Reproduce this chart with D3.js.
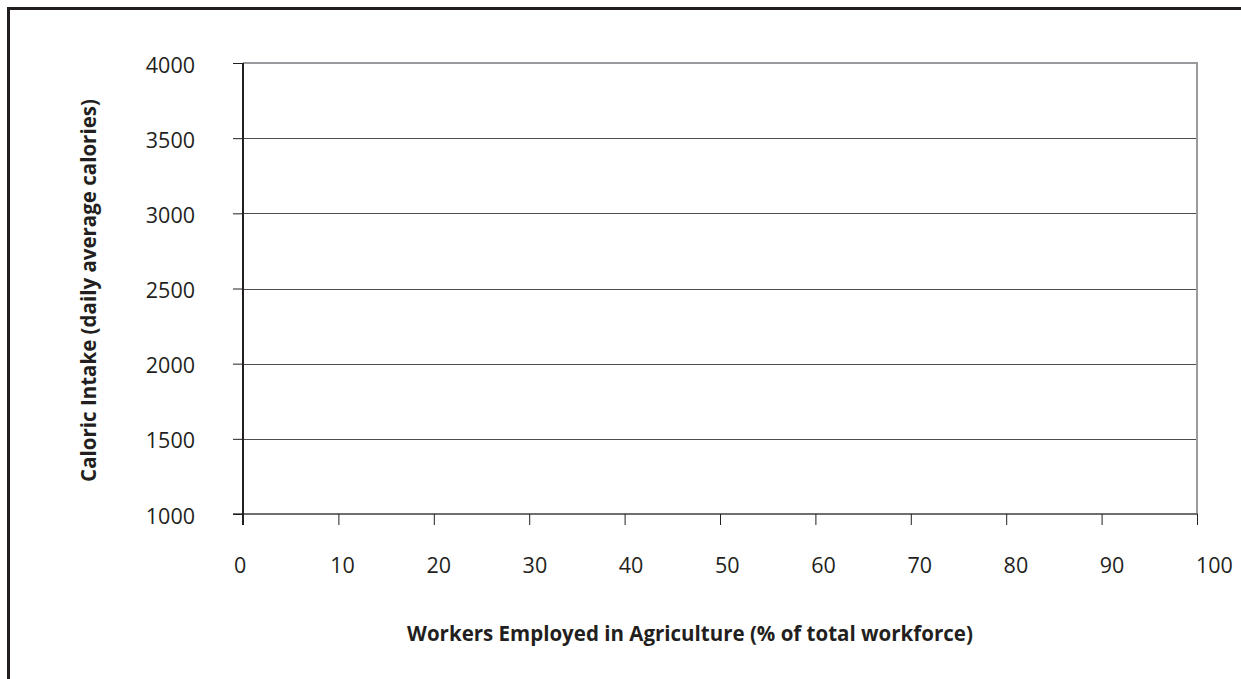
<!DOCTYPE html>
<html>
<head>
<meta charset="utf-8">
<script src="https://cdn.jsdelivr.net/npm/d3@7"></script>
<style>
  html, body { margin: 0; padding: 0; background: #fff; }
  svg { display: block; }
  text { font-family: "Open Sans", "Noto Sans", sans-serif; fill: #231f20; }
</style>
</head>
<body>
<svg id="chart" width="1241" height="679"></svg>
<script>
// Axis domains and tick values
const xDomain = [0, 100];
const yDomain = [1000, 4000];
const xTickValues = [0, 10, 20, 30, 40, 50, 60, 70, 80, 90, 100];
const yTickValues = [1000, 1500, 2000, 2500, 3000, 3500, 4000];
// Scatter points (workers in agriculture %, daily calories) – none plotted
const points = [];

const xTitle = "Workers Employed in Agriculture (% of total workforce)";
const yTitle = "Caloric Intake (daily average calories)";

const svg = d3.select("#chart");
const plot = { left: 243, right: 1197, top: 63, bottom: 514 };
const tickFont = 21.5;
const titleFont = 20.5;

const x = d3.scaleLinear().domain(xDomain).range([plot.left, plot.right]);
const y = d3.scaleLinear().domain(yDomain).range([plot.bottom, plot.top]);
// x tick labels are set left-aligned on a slightly wider spacing than the ticks
const xLabel = d3.scaleLinear().domain(xDomain).range([234, 1196]);

// Outer frame
svg.append("rect")
  .attr("x", 8.5).attr("y", 8.5)
  .attr("width", 1300).attr("height", 760)
  .attr("fill", "none")
  .attr("stroke", "#231f20")
  .attr("stroke-width", 3);

// Horizontal gridlines
svg.append("g")
  .selectAll("line")
  .data(yTickValues.filter(v => v > yDomain[0] && v < yDomain[1]))
  .join("line")
  .attr("x1", plot.left).attr("x2", plot.right)
  .attr("y1", d => Math.round(y(d)) + 0.5).attr("y2", d => Math.round(y(d)) + 0.5)
  .attr("stroke", "#4d4d4d").attr("stroke-width", 1);

// Plot frame: top and right in grey
svg.append("path")
  .attr("d", `M${plot.left},${plot.top} H${plot.right} V${plot.bottom}`)
  .attr("fill", "none")
  .attr("stroke", "#9a9a9e")
  .attr("stroke-width", 2);

// X axis line (grey, extends slightly left of the y axis)
svg.append("line")
  .attr("x1", plot.left - 10).attr("x2", plot.right + 1)
  .attr("y1", plot.bottom).attr("y2", plot.bottom)
  .attr("stroke", "#6d6e71").attr("stroke-width", 2);

// X axis ticks
const gx = svg.append("g")
  .attr("transform", `translate(0,${plot.bottom})`)
  .call(d3.axisBottom(x).tickValues(xTickValues).tickSize(11).tickFormat(""));
gx.select(".domain").remove();
gx.selectAll(".tick line").attr("stroke", "#231f20").attr("stroke-width", 1);

// X tick labels
svg.append("g")
  .selectAll("text")
  .data(xTickValues)
  .join("text")
  .attr("x", d => xLabel(d))
  .attr("y", 572.5)
  .attr("text-anchor", "start")
  .attr("font-size", tickFont)
  .text(d3.format("d"));

// Y axis
const gy = svg.append("g")
  .attr("transform", `translate(${plot.left},0)`)
  .call(d3.axisLeft(y).tickValues(yTickValues).tickSize(10).tickPadding(38).tickFormat(d3.format("d")));
gy.select(".domain").remove();
gy.selectAll(".tick line").attr("stroke", "#231f20").attr("stroke-width", 1);
gy.selectAll(".tick text")
  .attr("font-size", tickFont)
  .attr("font-family", "'Open Sans', sans-serif")
  .attr("fill", "#231f20")
  .attr("dy", "0.42em");

// Y axis line (black, continues down past the x axis)
svg.append("line")
  .attr("x1", plot.left).attr("x2", plot.left)
  .attr("y1", plot.top).attr("y2", plot.bottom + 11)
  .attr("stroke", "#231f20").attr("stroke-width", 2);

// Points
svg.append("g")
  .selectAll("circle")
  .data(points)
  .join("circle")
  .attr("cx", d => x(d[0]))
  .attr("cy", d => y(d[1]))
  .attr("r", 4)
  .attr("fill", "#231f20");

// Axis titles
svg.append("text")
  .attr("x", 690)
  .attr("y", 641)
  .attr("text-anchor", "middle")
  .attr("font-size", titleFont)
  .attr("font-weight", "bold")
  .text(xTitle);

svg.append("text")
  .attr("transform", `translate(96,${(plot.top + plot.bottom) / 2 + 2}) rotate(-90)`)
  .attr("text-anchor", "middle")
  .attr("font-size", titleFont)
  .attr("font-weight", "bold")
  .text(yTitle);
</script>
</body>
</html>
